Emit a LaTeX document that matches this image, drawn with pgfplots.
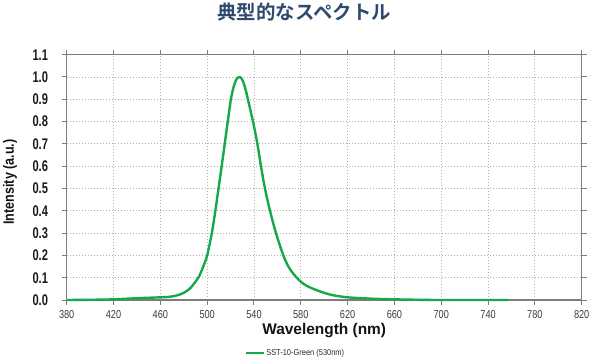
\documentclass[border=0pt]{standalone}
\usepackage{fontspec}
\usepackage{pgfplots}
\pgfplotsset{compat=1.18}
\setmainfont{Liberation Sans}
\newfontfamily\condB[FakeStretch=0.72]{Liberation Sans}
\newfontfamily\condL[FakeStretch=0.84]{Liberation Sans}
\newfontfamily\condX[FakeStretch=0.80]{Liberation Sans}
\newfontfamily\condLeg[FakeStretch=0.88]{Liberation Sans}
\newfontfamily\cjk{Noto Sans CJK JP Bold}
\definecolor{titleblue}{RGB}{46,74,110}
\definecolor{spec}{RGB}{22,168,76}
\definecolor{frame}{RGB}{125,125,125}
\definecolor{gridc}{RGB}{175,175,175}
\definecolor{ytxt}{RGB}{25,25,25}
\definecolor{xtxt}{RGB}{60,60,60}
\definecolor{lbl}{RGB}{20,20,20}
\definecolor{legtxt}{RGB}{40,40,40}
\begin{document}
\begin{tikzpicture}
\begin{axis}[
  scale only axis,
  width=515bp, height=245.3bp,
  xmin=380, xmax=820, ymin=0, ymax=1.1,
  xtick={380,420,...,820},
  ytick={0,0.1,...,1.1},
  grid=major,
  major grid style={draw=gridc, line width=0.8bp, dash pattern=on 1.5bp off 1.5bp},
  axis line style={draw=frame, line width=1.3bp},
  tick style={draw=frame, line width=1bp},
  tick align=outside,
  major tick length=5bp,
  /pgf/number format/assume math mode=true,
  yticklabel style={/pgf/number format/.cd, fixed, fixed zerofill, precision=1, /tikz/.cd,
    font=\condB\bfseries\fontsize{15.5}{15.5}\selectfont, text=ytxt, inner sep=0pt, anchor=east, xshift=-13.5bp},
  xticklabel style={/pgf/number format/.cd, 1000 sep={}, /tikz/.cd,
    font=\condX\fontsize{11.5}{11.5}\selectfont, text=xtxt, inner sep=0pt, anchor=north, yshift=-5bp},
  xlabel={Wavelength (nm)},
  xlabel style={at={(axis description cs:0.5,-0.124)}, anchor=center, font=\bfseries\fontsize{15.5}{15.5}\selectfont, text=lbl},
  ylabel={Intensity (a.u.)},
  ylabel style={at={(axis description cs:-0.110,0.481)}, anchor=center, font=\condL\bfseries\fontsize{15}{15}\selectfont, text=lbl},
  title={\cjk 典型的なスペクトル},
  title style={at={(axis description cs:0.461,1.1476)}, anchor=center, font=\fontsize{19.5}{19.5}\selectfont, text=titleblue},
  legend style={at={(axis description cs:0.346,-0.216)}, anchor=west, draw=none, fill=none, inner sep=0pt,
    font=\condLeg\fontsize{8.5}{8.5}\selectfont, text=legtxt, nodes={inner sep=1bp}},
  legend image code/.code={\draw[#1, line width=2.2bp] (0bp,0bp) -- (18bp,0bp);},
  clip=false,
]
\addplot[spec, line width=2.4bp, smooth, tension=0.55] coordinates {
(380,0) (400,0.001) (420,0.003) (440,0.008) (455,0.011) (465,0.013) (470,0.016)
(475,0.022) (480,0.032) (485,0.05) (489,0.075) (493,0.105) (497,0.155) (500,0.20)
(504,0.30) (507,0.40) (509.7,0.50) (512.4,0.60) (515,0.70) (517.6,0.80)
(520.3,0.90) (522.6,0.955) (524.6,0.985) (526.5,0.998) (528,1.0) (529.5,0.993)
(531,0.975) (532.8,0.945) (534.6,0.905) (536.8,0.855) (539.6,0.79) (542.9,0.70)
(546,0.60) (549.4,0.50) (553.7,0.40) (558.8,0.30) (565.1,0.20) (570,0.145)
(576.5,0.10) (583,0.07) (590.7,0.05) (600,0.032) (608,0.021) (620,0.012)
(640,0.006) (660,0.003) (680,0.001) (700,0) (757,0)
};
\addlegendentry{SST-10-Green (530nm)}
\coordinate (bl) at (rel axis cs:0,0);
\coordinate (tr) at (rel axis cs:1,1);
\end{axis}
\pgfresetboundingbox
\path[use as bounding box] ([xshift=-66.7bp,yshift=-62bp]bl) rectangle ([xshift=18.3bp,yshift=54.7bp]tr);
\end{tikzpicture}
\end{document}
